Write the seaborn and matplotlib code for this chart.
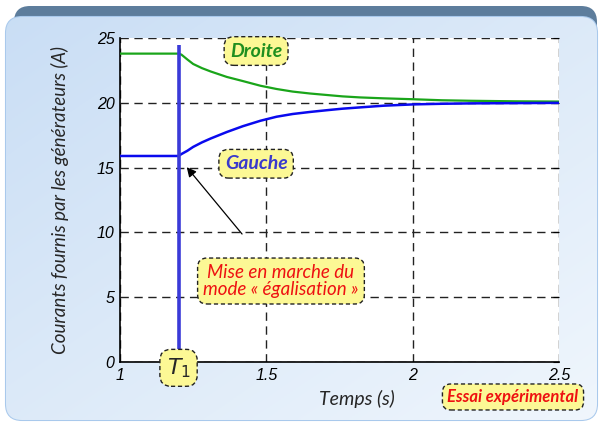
import numpy as np
import matplotlib.pyplot as plt
import seaborn as sns
import pandas as pd
from matplotlib.patches import FancyBboxPatch

# valeurs
temps = [1.0, 1.2, 1.21, 1.23, 1.25, 1.28, 1.31, 1.365, 1.42, 1.48, 1.535, 1.59, 1.65,
         1.71, 1.76, 1.82, 1.9, 2.0, 2.1, 2.2, 2.35, 2.5]
i_droite = [23.8, 23.8, 23.72, 23.35, 23.0, 22.68, 22.42, 22.0, 21.68, 21.32, 21.07, 20.87,
            20.72, 20.6, 20.5, 20.42, 20.35, 20.28, 20.2, 20.16, 20.12, 20.1]
i_gauche = [15.9, 15.9, 16.05, 16.3, 16.6, 16.95, 17.25, 17.75, 18.2, 18.62, 18.93, 19.14,
            19.3, 19.44, 19.55, 19.65, 19.78, 19.88, 19.93, 19.96, 19.98, 20.0]
t1 = 1.2
x_ticks = [1, 1.5, 2, 2.5]
x_labels = ["1", "1.5", "2", "2.5"]
y_ticks = [0, 5, 10, 15, 20, 25]

df = pd.DataFrame({"t": temps, "droite": i_droite, "gauche": i_gauche})

sns.set_style("white")
plt.rcParams["font.family"] = ["Lato", "DejaVu Sans"]

fig = plt.figure(figsize=(6, 4.23), dpi=100)

# fond : panneau bleu clair arrondi
bg = fig.add_axes([0, 0, 1, 1], zorder=-10)
bg.set_xlim(0, 600)
bg.set_ylim(423, 0)
bg.axis("off")
barre = FancyBboxPatch((14, 6), 583, 60, boxstyle="round,pad=0,rounding_size=16",
                       facecolor="#5d7d9c", edgecolor="none")
bg.add_patch(barre)
panneau = FancyBboxPatch((6, 17), 591, 403, boxstyle="round,pad=0,rounding_size=16",
                         facecolor="none", edgecolor="#a9c9ec", linewidth=1.5)
bg.add_patch(panneau)
gx, gy = np.meshgrid(np.linspace(0, 1, 200), np.linspace(0, 1, 200))
g = (gx * 0.5 + gy * 0.5)
c0 = np.array([0.79, 0.87, 0.96])
c1 = np.array([0.94, 0.965, 0.99])
img = c0[None, None, :] * (1 - g[..., None]) + c1[None, None, :] * g[..., None]
im = bg.imshow(img, extent=(6, 597, 420, 17), aspect="auto", zorder=1)
im.set_clip_path(panneau)

ax = fig.add_axes([0.2, 0.1442, 0.7317, 0.7658])
ax.set_facecolor("white")

sns.lineplot(data=df, x="t", y="droite", ax=ax, color="#1aa51a", linewidth=1.6, zorder=3)
sns.lineplot(data=df, x="t", y="gauche", ax=ax, color="#0a0aee", linewidth=1.8, zorder=3)
ax.vlines(t1, 1.0, 24.5, color="#3a3ad8", linewidth=2.6, zorder=4)

ax.set_xlim(1, 2.5)
ax.set_ylim(0, 25)
ax.set_xticks(x_ticks)
ax.set_xticklabels(x_labels)
ax.set_yticks(y_ticks)
ax.grid(True, color="#222222", linestyle=(0, (6, 4)), linewidth=1.0)
for s in ["top", "right"]:
    ax.spines[s].set_visible(False)
for s in ["left", "bottom"]:
    ax.spines[s].set_color("black")
    ax.spines[s].set_linewidth(1.2)
ax.tick_params(direction="in", length=4, right=True, top=False, pad=4,
               labelsize=11.5, colors="black")
for lab in ax.get_xticklabels() + ax.get_yticklabels():
    lab.set_fontstyle("italic")
    lab.set_family(["Liberation Sans", "DejaVu Sans"])

ax.set_xlabel("Temps (s)", fontsize=14, fontstyle="italic")
ax.xaxis.set_label_coords(0.54, -0.085)
ax.set_ylabel("Courants fournis par les générateurs (A)", fontsize=13.5,
              fontstyle="italic", labelpad=20)

boite = dict(boxstyle="round,pad=0.3,rounding_size=0.5", facecolor="#fcf895",
             edgecolor="#222222", linestyle=(0, (3, 2)), linewidth=1.0)

ax.text(1.465, 24.0, "Droite", color="#1f8f1f", fontsize=14, fontweight="bold",
        fontstyle="italic", ha="center", va="center", bbox=dict(boite, pad=0.4),
        zorder=6, clip_on=False)
ax.text(1.465, 15.3, "Gauche", color="#3a3acc", fontsize=14, fontweight="bold",
        fontstyle="italic", ha="center", va="center", bbox=dict(boite, pad=0.4), zorder=6)
ax.annotate("Mise en marche du\nmode « égalisation »", xy=(1.222, 15.2), xytext=(1.55, 6.25),
            color="#ee1111", fontsize=13.5, fontstyle="italic", ha="center", va="center",
            linespacing=1.05, bbox=dict(boite, pad=0.35), zorder=6,
            arrowprops=dict(arrowstyle="-|>", color="black", lw=0.9, shrinkA=22,
                            mutation_scale=14))
ax.text(t1, -0.45, "$T_1$", fontsize=16, fontstyle="italic", ha="center", va="center",
        bbox=dict(boite, pad=0.1), zorder=7, clip_on=False)

fig.text(0.855, 0.0615, "Essai expérimental", color="#ee1111", fontsize=12,
         fontweight="bold", fontstyle="italic", ha="center", va="center",
         bbox=dict(boite, pad=0.25))

fig.savefig("out.png", dpi=100)
